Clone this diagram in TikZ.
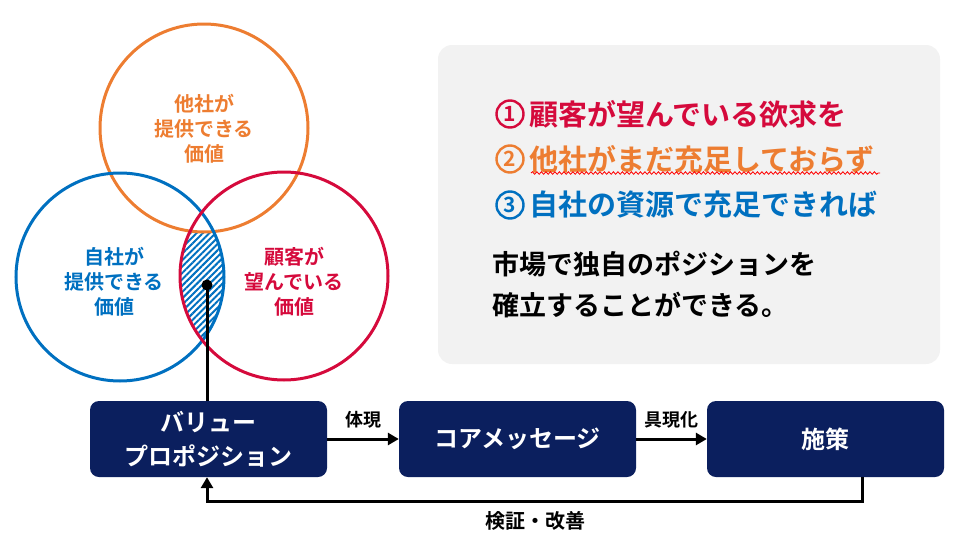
\documentclass[tikz,border=0pt]{standalone}
\usepackage{fontspec}
\setmainfont{Noto Sans CJK JP}[BoldFont={Noto Sans CJK JP Bold}]
\usetikzlibrary{patterns.meta,decorations.pathmorphing,arrows.meta,calc}
\definecolor{cred}{HTML}{D50A3C}
\definecolor{corange}{HTML}{ED7D31}
\definecolor{cblue}{HTML}{0070C0}
\definecolor{cnavy}{HTML}{0B1F5E}
\definecolor{cpanel}{HTML}{F2F2F2}
\tikzset{
  ring/.style={circle, draw=#1, line width=3pt, minimum size=208pt, inner sep=0pt},
  ctext/.style={text=#1, font=\bfseries\fontsize{20}{25}\selectfont, align=center},
  stepbox/.style={fill=cnavy, rounded corners=9pt, minimum width=237pt, minimum height=76pt,
    text=white, font=\bfseries\fontsize{24}{34}\selectfont, align=center},
  flow/.style={line width=3pt, -{Triangle[length=11pt,width=12pt]}},
  flowlabel/.style={font=\bfseries\fontsize{18}{22}\selectfont},
  numring/.style={circle, draw=#1, text=#1, line width=2.4pt, minimum size=27pt, inner sep=0pt,
    font=\bfseries\fontsize{21}{21}\selectfont},
  pline/.style={anchor=west, font=\bfseries\fontsize{29}{34}\selectfont, inner sep=0pt},
  bline/.style={anchor=west, font=\bfseries\fontsize{27}{32}\selectfont, inner sep=0pt}
}
\begin{document}
\begin{tikzpicture}[x=1pt,y=-1pt]
\useasboundingbox (0,0) rectangle (956,557);
% circle centres
\coordinate (oC) at (204,128);
\coordinate (bC) at (120,277);
\coordinate (rC) at (284,276);
% hatched intersection
\begin{scope}
  \clip (bC) circle[radius=104pt];
  \clip (rC) circle[radius=104pt];
  \begin{scope}[even odd rule]
    \clip (0,0) rectangle (956,557) (oC) circle[radius=104pt];
    \fill[pattern={Lines[angle=45,distance=4.5pt,line width=2pt]}, pattern color=cblue]
      (0,0) rectangle (956,557);
  \end{scope}
\end{scope}
% circles
\node[ring=corange] (oc) at (oC) {};
\node[ring=cblue] (bc) at (bC) {};
\node[ring=cred] (rc) at (rC) {};
\node[ctext=corange] (ot) at (204,129) {他社が\\提供できる\\価値};
\node[ctext=cblue] (bt) at (114,282) {自社が\\提供できる\\価値};
\node[ctext=cred] (rt) at (294,282) {顧客が\\望んでいる\\価値};
% panel
\node[fill=cpanel, rounded corners=14pt, minimum width=502pt, minimum height=319pt, inner sep=0pt] (panel) at (689,204.5) {};
\node[numring=cred] (n1) at (510,114) {1};
\node[numring=corange] (n2) at (510,159) {2};
\node[numring=cblue] (n3) at (510,205) {3};
\node[pline, text=cred] (l1) at (529,114) {顧客が望んでいる欲求を};
\node[pline, text=corange] (l2) at (529,159) {他社がまだ充足しておらず};
\node[pline, text=cblue] (l3) at (529,205) {自社の資源で充足できれば};
\node[bline] (l4) at (492,264) {市場で独自のポジションを};
\node[bline] (l5) at (492,305) {確立することができる。};
\draw[red, line width=0.8pt, decorate, decoration={snake, amplitude=1.3pt, segment length=4.5pt}]
  (531,173) -- (880,173);
% boxes
\node[stepbox] (b1) at (208.5,439) {バリュー\\プロポジション};
\node[stepbox] (b2) at (517.5,439) {コアメッセージ};
\node[stepbox] (b3) at (825.5,439) {施策};
% dot and line
\node[circle, fill=black, minimum size=11pt, inner sep=0pt] (dot) at (207,285) {};
\draw[line width=3pt] (dot.center) -- (dot.center |- b1.north);
% arrows
\draw[flow] (b1.east) -- node[flowlabel, above=6pt] (lab1) {体現} (b2.west);
\draw[flow] (b2.east) -- node[flowlabel, above=6pt] (lab2) {具現化} (b3.west);
\coordinate (fb) at (862,501);
\draw[flow] (b3.south -| fb) -- (fb) -- (fb -| dot) -- (dot |- b1.south);
\node[flowlabel, font=\bfseries\fontsize{20}{22}\selectfont] (lab3) at (535,521) {検証・改善};
\end{tikzpicture}
\end{document}
